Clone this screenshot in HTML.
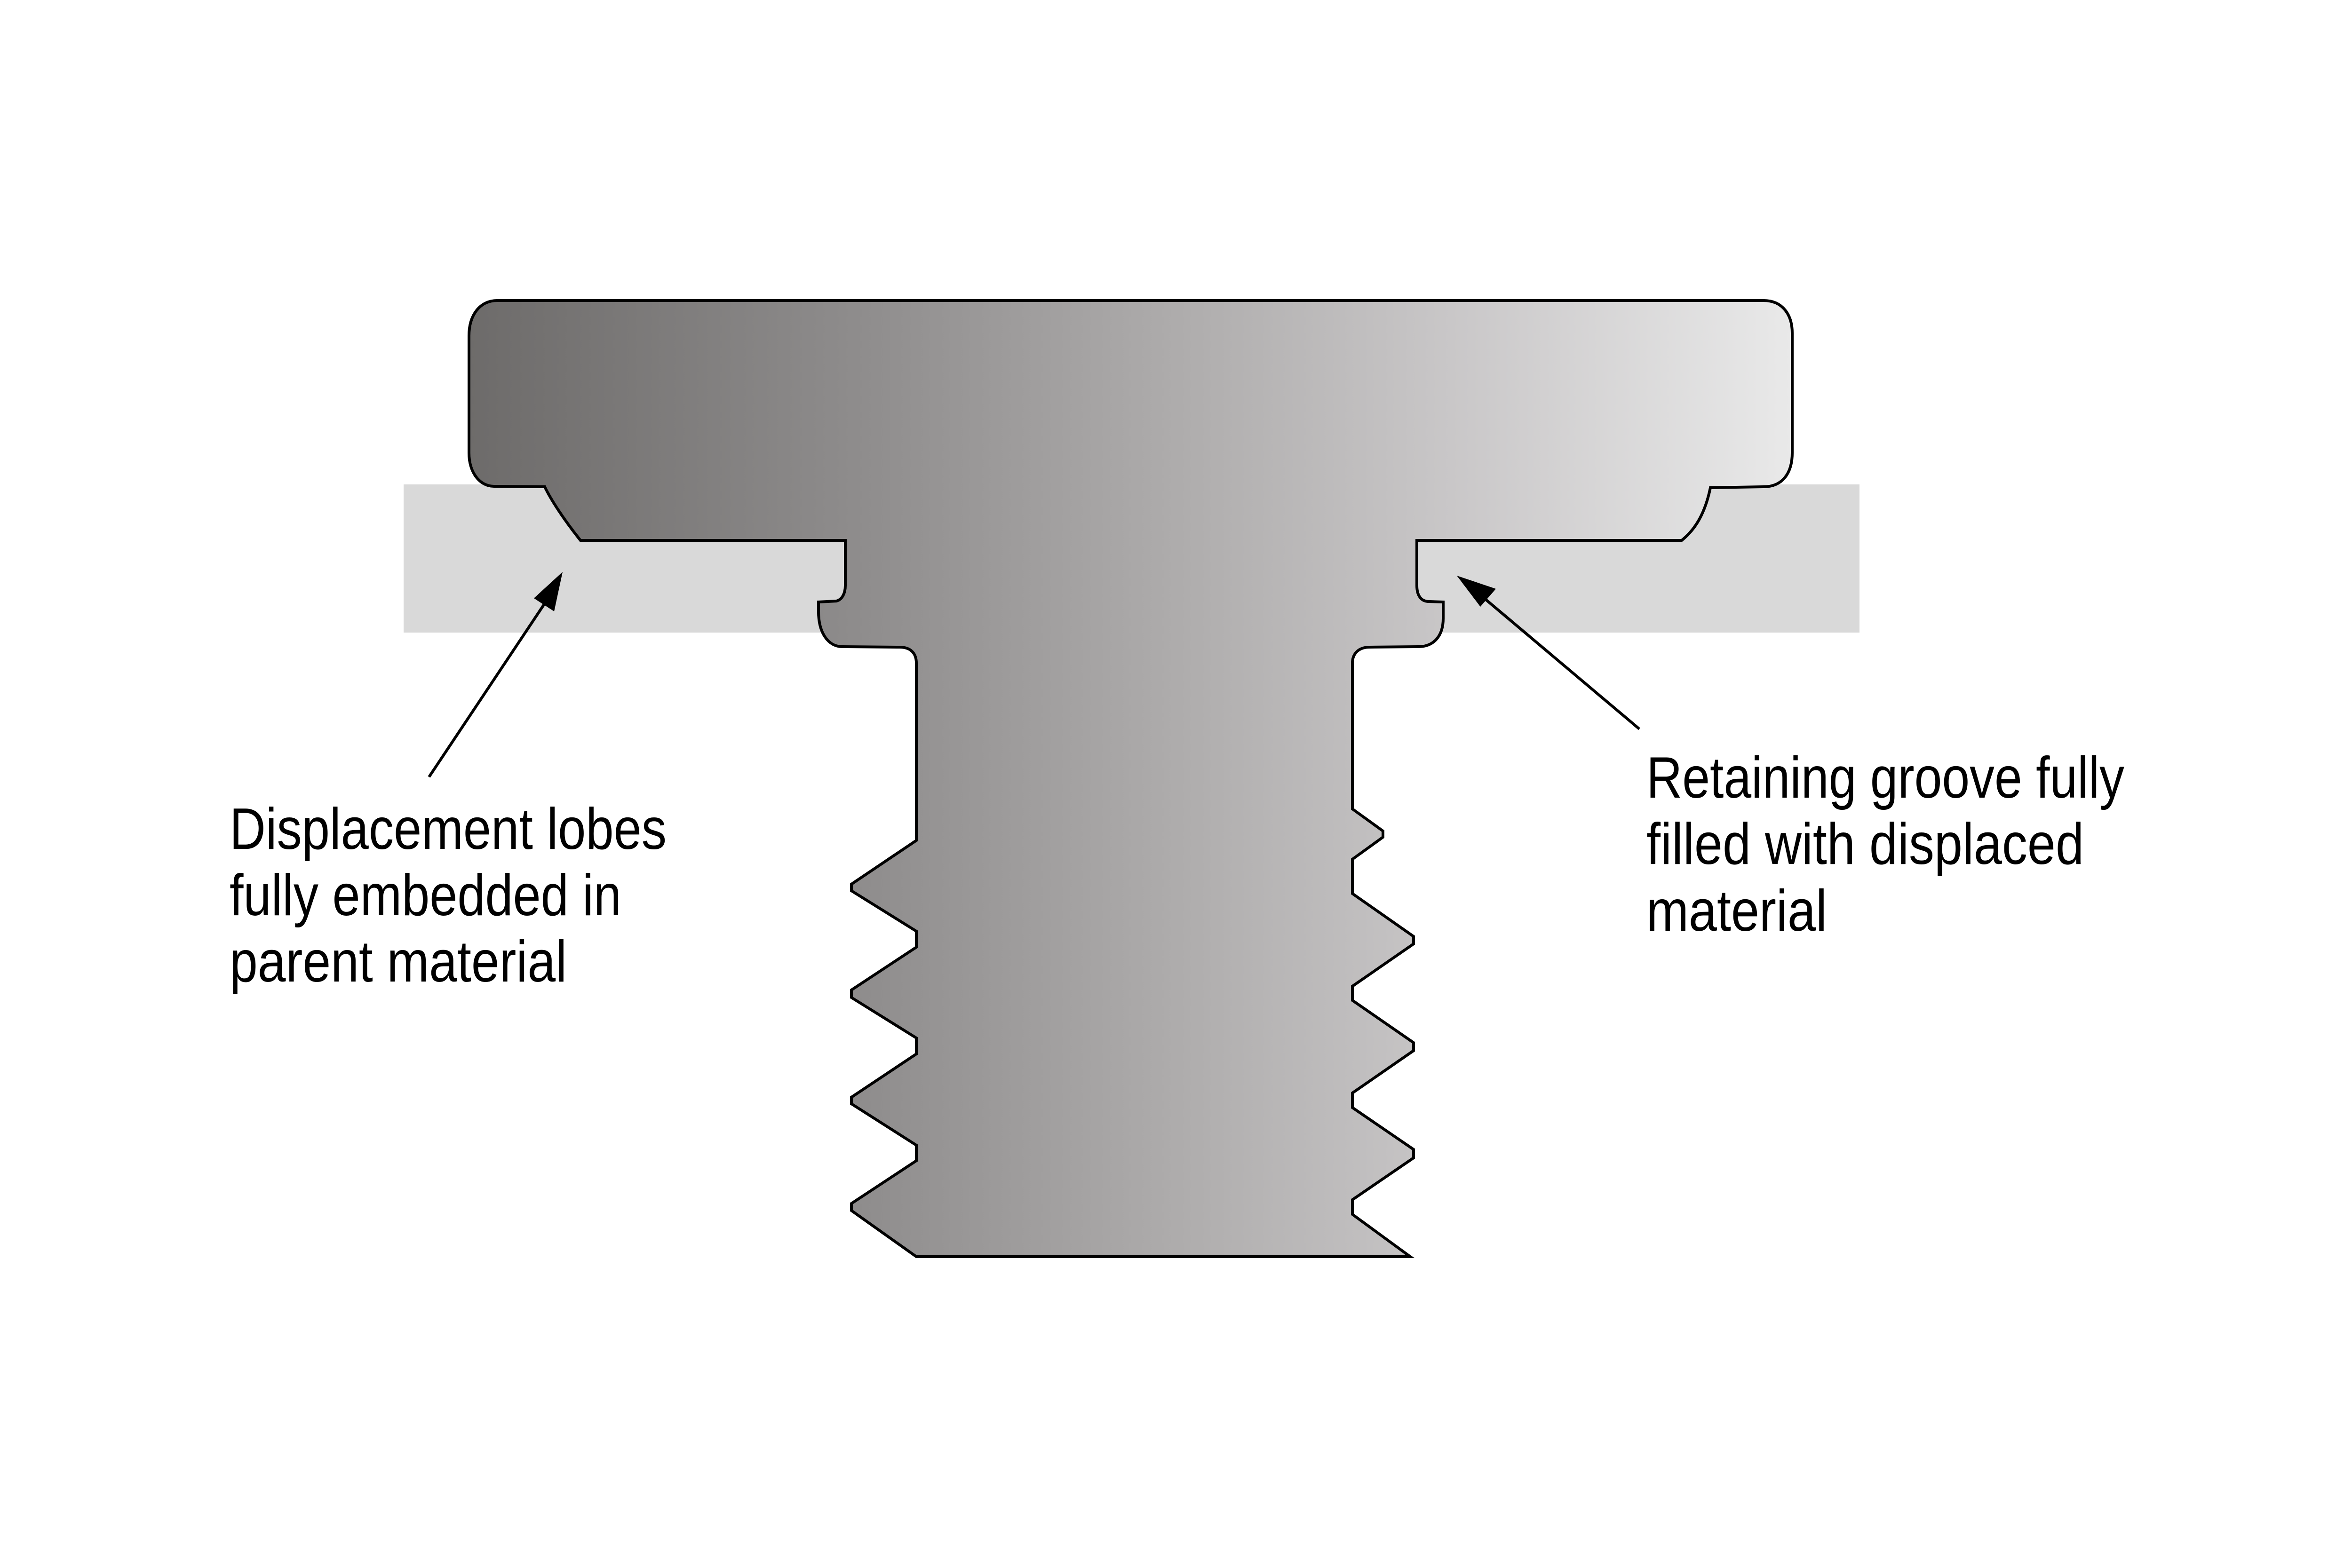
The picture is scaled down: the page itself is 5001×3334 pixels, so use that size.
<!DOCTYPE html>
<html><head><meta charset="utf-8"><style>html,body{margin:0;padding:0;background:#fff}svg{display:block}</style></head>
<body>
<svg width="5001" height="3334" viewBox="0 0 5001 3334" xmlns="http://www.w3.org/2000/svg">
<defs>
<linearGradient id="g" gradientUnits="userSpaceOnUse" x1="997" y1="0" x2="3810" y2="0">
<stop offset="0" stop-color="#6d6b6a"/>
<stop offset="0.3" stop-color="#8f8d8d"/>
<stop offset="0.55" stop-color="#b0aeae"/>
<stop offset="0.75" stop-color="#cac8c9"/>
<stop offset="1" stop-color="#e9e9e9"/>
</linearGradient>
</defs>
<rect x="0" y="0" width="5001" height="3334" fill="#fff"/>
<rect x="858" y="1030" width="3095" height="315" fill="#d9d9d9"/>
<path fill="url(#g)" stroke="#000" stroke-width="6" stroke-linejoin="miter" d="
M 1057 639 L 3749 639 C 3790 639 3810 670 3810 708 L 3810 963 C 3810 1005 3790 1035 3749 1035
L 3636 1037 C 3625 1090 3605 1125 3575 1149 L 3012 1149 L 3012 1245 C 3012 1265 3020 1279 3038 1279
L 3068 1280 L 3068 1315 C 3068 1350 3050 1375 3015 1375 L 2912 1376 C 2888 1376 2875 1390 2875 1410
L 2875 1720 L 2940 1767 L 2940 1780 L 2875 1827 L 2875 1900 L 3005 1991 L 3005 2007 L 2875 2097
L 2875 2127 L 3005 2217 L 3005 2234 L 2875 2324 L 2875 2355 L 3005 2444 L 3005 2462 L 2875 2551
L 2875 2582 L 2998 2672 L 1948 2672 L 1810 2574 L 1810 2559 L 1948 2468 L 1948 2435 L 1810 2347
L 1810 2333 L 1948 2241 L 1948 2207 L 1810 2121 L 1810 2105 L 1948 2014 L 1948 1980 L 1810 1894
L 1810 1880 L 1948 1787 L 1948 1410 C 1948 1388 1935 1376 1912 1376 L 1791 1375
C 1760 1375 1740 1345 1740 1300 L 1740 1280 L 1778 1278 C 1790 1275 1797 1262 1797 1245 L 1797 1149
L 1234 1149 C 1195 1100 1170 1060 1158 1035 L 1050 1034 C 1020 1034 997 1005 997 963 L 997 714
C 997 670 1020 639 1057 639 Z"/>
<line x1="912" y1="1652" x2="1170" y2="1265" stroke="#000" stroke-width="6"/>
<polygon points="1196,1216 1178,1300 1135,1272" fill="#000"/>
<line x1="3485" y1="1550" x2="3135" y2="1255" stroke="#000" stroke-width="6"/>
<polygon points="3097,1224 3180,1252 3147,1290" fill="#000"/>
<g font-family="'Liberation Sans', sans-serif" font-size="124" fill="#000">
<text x="488" y="1805" textLength="929" lengthAdjust="spacingAndGlyphs">Displacement lobes</text>
<text x="488" y="1946" textLength="833" lengthAdjust="spacingAndGlyphs">fully embedded in</text>
<text x="488" y="2087" textLength="717" lengthAdjust="spacingAndGlyphs">parent material</text>
<text x="3500" y="1696" textLength="1016" lengthAdjust="spacingAndGlyphs">Retaining groove fully</text>
<text x="3500" y="1837" textLength="930" lengthAdjust="spacingAndGlyphs">filled with displaced</text>
<text x="3500" y="1979" textLength="384" lengthAdjust="spacingAndGlyphs">material</text>
</g>
</svg>
</body></html>
